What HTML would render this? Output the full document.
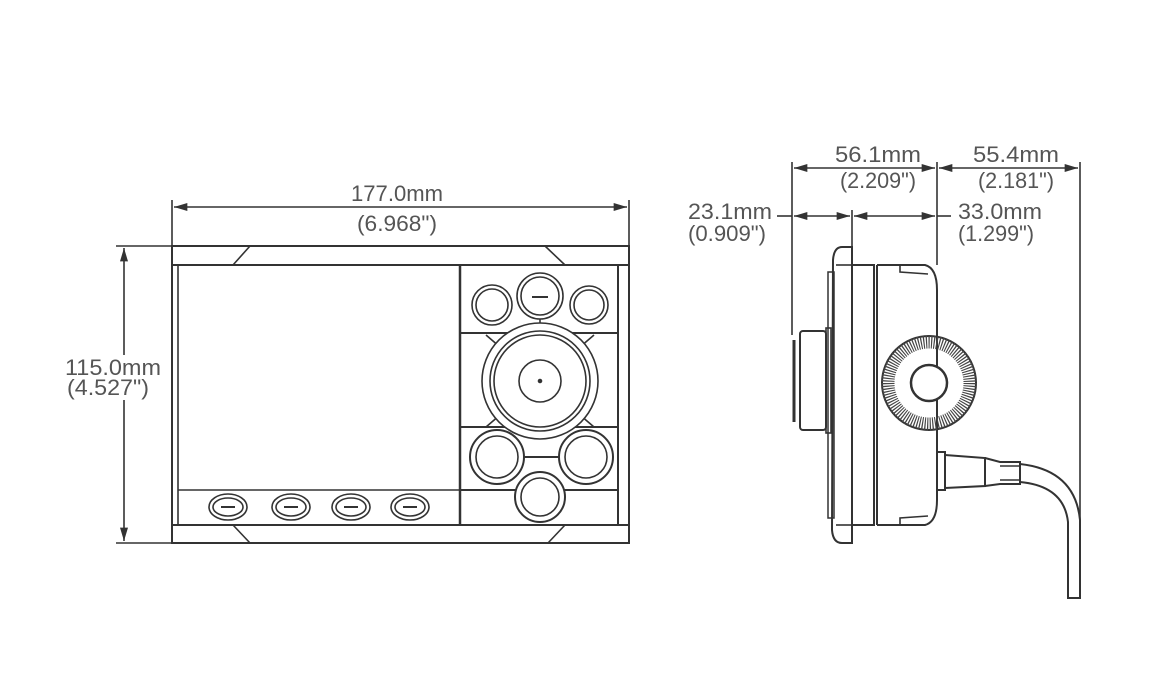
<!DOCTYPE html>
<html><head><meta charset="utf-8"><style>
html,body{margin:0;padding:0;background:#fff}
svg{display:block}
text{font-family:"Liberation Sans",sans-serif;font-size:22px;fill:#555}
</style></head><body>
<svg width="1169" height="696" viewBox="0 0 1169 696" xmlns="http://www.w3.org/2000/svg">
<defs>
<marker id="a" viewBox="0 0 10 6" refX="10" refY="3" markerWidth="9" markerHeight="5" orient="auto-start-reverse"><path d="M0,0L10,3L0,6z" fill="#333"/></marker>
</defs>
<g stroke="#333" fill="none" stroke-width="1.6">
<line x1="172" y1="200" x2="172" y2="246"/><line x1="629" y1="200" x2="629" y2="246"/>
<line x1="174" y1="207" x2="627" y2="207" marker-start="url(#a)" marker-end="url(#a)"/>
<line x1="116" y1="246" x2="172" y2="246"/><line x1="116" y1="543" x2="172" y2="543"/>
<line x1="124" y1="248" x2="124" y2="541" marker-start="url(#a)" marker-end="url(#a)"/>
<rect x="172" y="246" width="457" height="297" stroke-width="2"/>
<line x1="172" y1="265" x2="629" y2="265" stroke-width="2"/>
<line x1="172" y1="525" x2="629" y2="525" stroke-width="2"/>
<line x1="178" y1="265" x2="178" y2="525"/>
<line x1="618" y1="265" x2="618" y2="525" stroke-width="2"/>
<line x1="233" y1="265" x2="250" y2="246"/><line x1="545" y1="246" x2="565" y2="265"/>
<line x1="233" y1="525" x2="250" y2="543"/><line x1="565" y1="525" x2="548" y2="543"/>
<line x1="460" y1="265" x2="460" y2="525" stroke-width="2.5"/>
<line x1="178" y1="490" x2="460" y2="490"/>
<line x1="460" y1="333" x2="618" y2="333" stroke-width="2"/>
<line x1="460" y1="427" x2="618" y2="427" stroke-width="2"/>
<line x1="460" y1="490" x2="618" y2="490" stroke-width="2"/>
<line x1="510" y1="457" x2="572" y2="457" stroke-width="2"/>
<line x1="540" y1="316" x2="540" y2="324"/>
<line x1="486" y1="335" x2="500" y2="347"/><line x1="594" y1="335" x2="580" y2="347"/>
<line x1="486" y1="427" x2="500" y2="415"/><line x1="594" y1="427" x2="580" y2="415"/>
<g fill="#fff">
<circle cx="540" cy="296" r="23"/><circle cx="540" cy="296" r="19"/>
<circle cx="492" cy="305" r="20"/><circle cx="492" cy="305" r="16"/>
<circle cx="589" cy="305" r="19"/><circle cx="589" cy="305" r="15"/>
<circle cx="540" cy="381" r="58"/><circle cx="540" cy="381" r="50"/><circle cx="540" cy="381" r="46"/><circle cx="540" cy="381" r="21"/>
<circle cx="497" cy="457" r="27" stroke-width="2"/><circle cx="497" cy="457" r="21"/>
<circle cx="586" cy="457" r="27" stroke-width="2"/><circle cx="586" cy="457" r="21"/>
<circle cx="540" cy="497" r="25" stroke-width="2"/><circle cx="540" cy="497" r="19"/>
<ellipse cx="228" cy="507" rx="19" ry="13"/><ellipse cx="228" cy="507" rx="15" ry="9"/>
<ellipse cx="291" cy="507" rx="19" ry="13"/><ellipse cx="291" cy="507" rx="15" ry="9"/>
<ellipse cx="351" cy="507" rx="19" ry="13"/><ellipse cx="351" cy="507" rx="15" ry="9"/>
<ellipse cx="410" cy="507" rx="19" ry="13"/><ellipse cx="410" cy="507" rx="15" ry="9"/>
</g>
<circle cx="540" cy="381" r="1.5" fill="#333"/>
<g stroke-width="2"><line x1="532" y1="297" x2="548" y2="297"/>
<line x1="221" y1="507" x2="235" y2="507"/><line x1="284" y1="507" x2="298" y2="507"/><line x1="344" y1="507" x2="358" y2="507"/><line x1="403" y1="507" x2="417" y2="507"/></g>
<line x1="792" y1="162" x2="792" y2="335"/>
<line x1="937" y1="162" x2="937" y2="265"/>
<line x1="1080" y1="162" x2="1080" y2="520"/>
<line x1="794" y1="168" x2="935" y2="168" marker-start="url(#a)" marker-end="url(#a)"/>
<line x1="939" y1="168" x2="1078" y2="168" marker-start="url(#a)" marker-end="url(#a)"/>
<line x1="777" y1="216" x2="792" y2="216"/>
<line x1="794" y1="216" x2="850" y2="216" marker-start="url(#a)" marker-end="url(#a)"/>
<line x1="854" y1="216" x2="935" y2="216" marker-start="url(#a)" marker-end="url(#a)"/>
<line x1="937" y1="216" x2="951" y2="216"/>
<line x1="852" y1="210" x2="852" y2="247"/>
<path d="M852,247 L842,247 Q834,247 833,260 L832,530 Q833,543 842,543 L852,543 Z" stroke-width="2"/>
<line x1="836" y1="265" x2="852" y2="265"/><line x1="836" y1="525" x2="852" y2="525"/>
<rect x="828" y="272" width="6" height="246" stroke-width="1.5"/>
<rect x="800" y="331" width="26" height="99" rx="3" stroke-width="2"/>
<line x1="794" y1="340" x2="794" y2="422" stroke-width="3"/>
<rect x="826" y="328" width="5" height="105"/>
<rect x="852" y="265" width="22" height="260" stroke-width="2"/>
<line x1="877" y1="265" x2="877" y2="525" stroke-width="2"/>
<path d="M877,265 L925,265 Q937,268 937,290 L937,500 Q937,522 925,525 L877,525" stroke-width="2"/>
<path d="M900,265 L900,272 L928,274"/><path d="M900,525 L900,518 L928,516"/>
<circle cx="929" cy="383" r="47" stroke-width="2"/>
<circle cx="929" cy="383" r="41" stroke="#444" stroke-width="13" stroke-dasharray="1.2 1.4"/>
<circle cx="929" cy="383" r="18" fill="#fff" stroke-width="2.5"/>
<path d="M937,452 L945,452 L945,490 L937,490" stroke-width="2"/>
<path d="M945,455 L985,458 L985,486 L945,488" stroke-width="2"/>
<path d="M985,458 L1000,462 L1020,462 L1020,484 L1000,484 L985,486" stroke-width="2"/>
<line x1="1000" y1="466" x2="1020" y2="466"/><line x1="1000" y1="480" x2="1020" y2="480"/>
<path d="M1020,464 Q1075,470 1080,520 L1080,598 L1068,598 L1068,522 Q1064,486 1020,482" stroke-width="2"/>
</g>
<rect x="112" y="355" width="24" height="45" fill="#fff"/>
<g text-anchor="middle">
<text x="397" y="201" textLength="92" lengthAdjust="spacingAndGlyphs">177.0mm</text>
<text x="397" y="231" textLength="80" lengthAdjust="spacingAndGlyphs">(6.968")</text>
<text x="878" y="162" textLength="86" lengthAdjust="spacingAndGlyphs">56.1mm</text>
<text x="878" y="188" textLength="76" lengthAdjust="spacingAndGlyphs">(2.209")</text>
<text x="1016" y="162" textLength="86" lengthAdjust="spacingAndGlyphs">55.4mm</text>
<text x="1016" y="188" textLength="76" lengthAdjust="spacingAndGlyphs">(2.181")</text>
</g>
<g text-anchor="end">
<text x="161" y="375" textLength="96" lengthAdjust="spacingAndGlyphs">115.0mm</text>
<text x="149" y="395" textLength="82" lengthAdjust="spacingAndGlyphs">(4.527")</text>
<text x="772" y="219" textLength="84" lengthAdjust="spacingAndGlyphs">23.1mm</text>
<text x="766" y="241" textLength="78" lengthAdjust="spacingAndGlyphs">(0.909")</text>
</g>
<text x="958" y="219" textLength="84" lengthAdjust="spacingAndGlyphs">33.0mm</text>
<text x="958" y="241" textLength="76" lengthAdjust="spacingAndGlyphs">(1.299")</text>
</svg>
</body></html>
